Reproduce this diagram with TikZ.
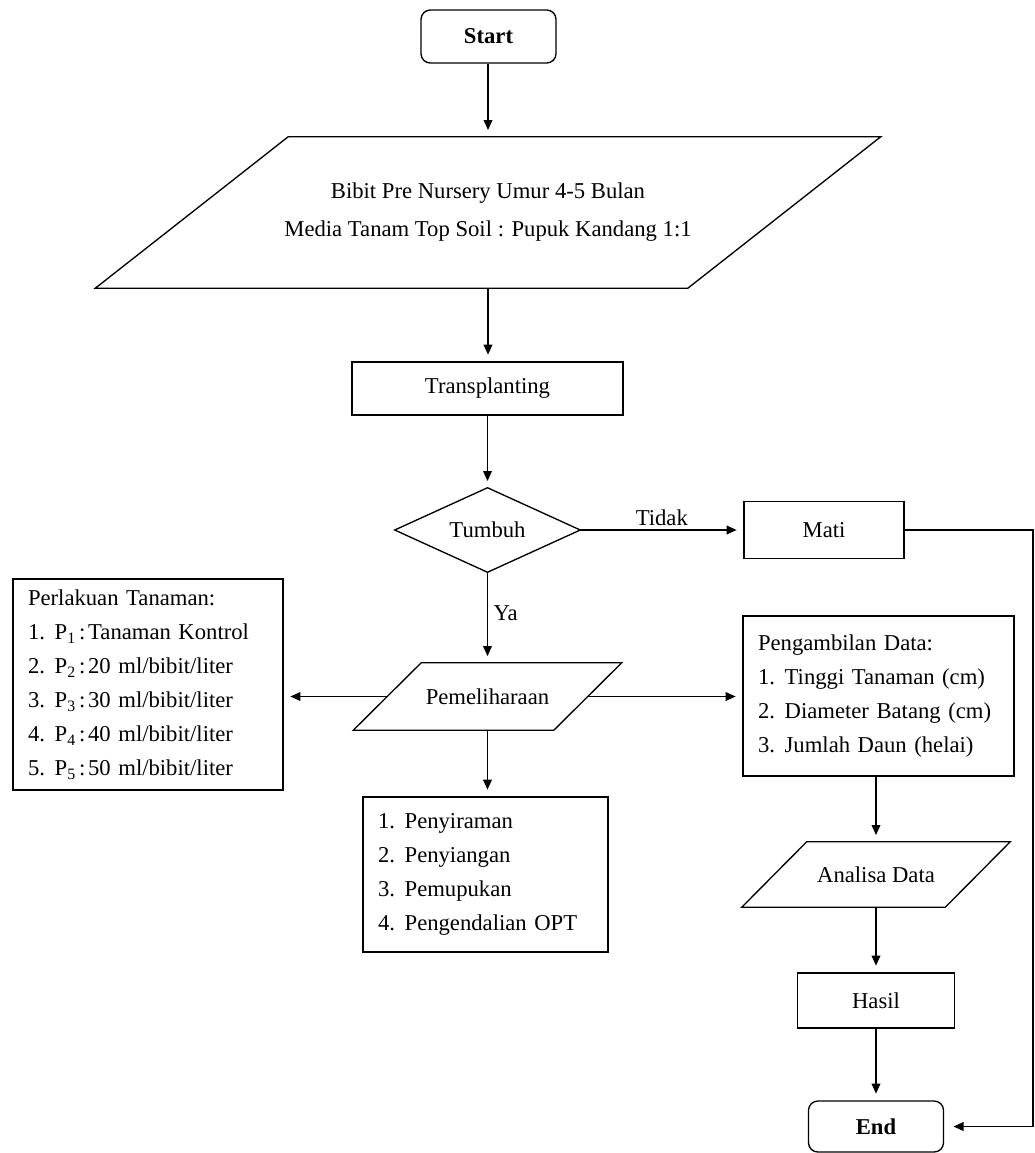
\documentclass[tikz,border=0pt]{standalone}
\usepackage{fontspec}
\setmainfont{Liberation Serif}
\usetikzlibrary{arrows.meta}
\newcommand{\flitem}[2]{\mbox{\makebox[20pt][l]{#1}#2}}
\newcommand{\pcode}[1]{P\textsubscript{#1}\hspace{2.5pt}:\hspace{2pt}}
\begin{document}
\begin{tikzpicture}[x=0.75pt,y=-0.75pt,
  txt/.style={font=\fontsize{17}{25.5}\selectfont},
  ln/.style={line width=1pt},
  boxn/.style={draw, ln, txt, inner sep=0pt, align=center},
  term/.style={boxn, rounded corners=7pt, font=\bfseries\fontsize{17}{20}\selectfont},
  listn/.style={draw, ln, txt, align=left, inner xsep=11.25pt, inner ysep=0pt},
  ghost/.style={txt, inner sep=0pt, align=center},
  arr/.style={ln, -{Triangle[length=7.5pt,width=6.5pt]}, shorten >=5pt},
]
\useasboundingbox (0,0) rectangle (1035,1153);
\fill[white] (0,0) rectangle (1035,1153);

% nodes
\node[term, minimum width=101.25pt, minimum height=39.75pt] (start) at (488.5,36.5) {Start};
\node[ghost, minimum width=588.75pt, minimum height=113.25pt, font=\fontsize{17}{28.5}\selectfont] (input) at (488,212.5) {Bibit Pre Nursery Umur 4-5 Bulan\\Media Tanam Top Soil : Pupuk Kandang 1:1};
\draw[ln] (input.south west) -- ([xshift=144.75pt]input.north west) -- (input.north east) -- ([xshift=-144.75pt]input.south east) -- cycle;
\node[boxn, minimum width=203.25pt, minimum height=39.75pt] (trans) at (487.5,388.5) {Transplanting};
\node[ghost, minimum width=138.75pt, minimum height=63pt] (tumbuh) at (487.5,530) {Tumbuh};
\draw[ln] (tumbuh.west) -- (tumbuh.north) -- (tumbuh.east) -- (tumbuh.south) -- cycle;
\node[boxn, minimum width=120pt, minimum height=42.75pt] (mati) at (824,530) {Mati};
\node[ghost, minimum width=201pt, minimum height=50.25pt] (pem) at (487.5,696.5) {Pemeliharaan};
\draw[ln] (pem.south west) -- ([xshift=51pt]pem.north west) -- (pem.north east) -- ([xshift=-51pt]pem.south east) -- cycle;
\node[listn, text width=180pt, minimum height=158.25pt] (perl) at (148,684.5) {Perlakuan Tanaman:\\
  \flitem{1.}{\pcode{1}Tanaman Kontrol}\\
  \flitem{2.}{\pcode{2}20 ml/bibit/liter}\\
  \flitem{3.}{\pcode{3}30 ml/bibit/liter}\\
  \flitem{4.}{\pcode{4}40 ml/bibit/liter}\\
  \flitem{5.}{\pcode{5}50 ml/bibit/liter}};
\node[listn, text width=180.75pt, minimum height=120pt] (peng) at (878.5,696) {Pengambilan Data:\\
  \flitem{1.}{Tinggi Tanaman (cm)}\\
  \flitem{2.}{Diameter Batang (cm)}\\
  \flitem{3.}{Jumlah Daun (helai)}};
\node[listn, text width=161.25pt, minimum height=116.25pt] (rawat) at (485.5,874.5) {\flitem{1.}{Penyiraman}\\
  \flitem{2.}{Penyiangan}\\
  \flitem{3.}{Pemupukan}\\
  \flitem{4.}{Pengendalian OPT}};
\node[ghost, minimum width=201pt, minimum height=48.75pt] (ana) at (876,874.5) {Analisa Data};
\draw[ln] (ana.south west) -- ([xshift=48.75pt]ana.north west) -- (ana.north east) -- ([xshift=-48.75pt]ana.south east) -- cycle;
\node[boxn, minimum width=117.75pt, minimum height=41.25pt] (hasil) at (876,1000.5) {Hasil};
\node[term, minimum width=101.25pt, minimum height=38.25pt] (end) at (876,1126.5) {End};
\coordinate (loop) at (1033,530);

% connectors
\draw[arr] (start.south -| input.north) -- (input.north);
\draw[arr] (input.south) -- (input.south |- trans.north);
\draw[arr] (trans.south) -- (tumbuh.north);
\draw[arr] (tumbuh.east) -- node[above, txt, inner sep=3pt] {Tidak} (mati.west);
\draw[arr] (tumbuh.south) -- node[right, txt, pos=0.45, inner sep=4pt] {Ya} (pem.north);
\draw[arr] ([xshift=25.5pt]pem.west) -- (pem.west -| perl.east);
\draw[arr] ([xshift=-25.5pt]pem.east) -- (pem.east -| peng.west);
\draw[arr] (pem.south) -- (pem.south |- rawat.north);
\draw[arr] (peng.south -| ana.north) -- (ana.north);
\draw[arr] (ana.south) -- (hasil.north);
\draw[arr] (hasil.south) -- (end.north);
\draw[arr, shorten >=7pt] (mati.east) -- (loop) |- (end.east);
\end{tikzpicture}
\end{document}
